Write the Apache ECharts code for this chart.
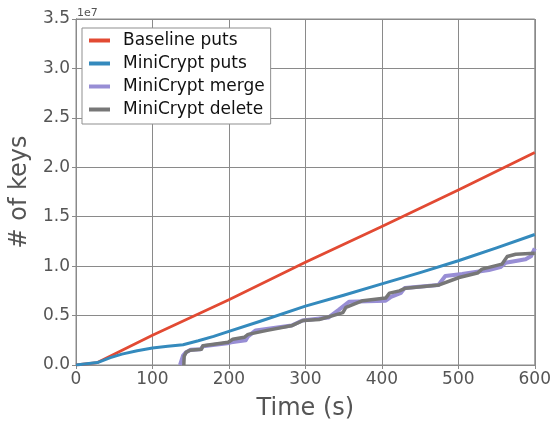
<!DOCTYPE html>
<html>
<head>
<meta charset="utf-8">
<script src="https://cdn.jsdelivr.net/npm/echarts@6/dist/echarts.min.js"></script>
<style>
  html, body { margin: 0; padding: 0; background: #fff; }
  #chart { width: 554px; height: 426px; }
</style>
</head>
<body>
<div id="chart"></div>
<script>
// Key counts are in millions of keys; the y axis shows them in units of 1e7.
const baselineTime = [0, 28, 100, 200, 300, 400, 500, 600];
const baselineKeys = [0, 0.25, 3.0, 6.6, 10.4, 14.0, 17.7, 21.5];

const putsTime = [0, 28, 45, 60, 80, 100, 120, 140, 160, 180, 200, 240, 300, 350, 400, 450, 500, 550, 600];
const putsKeys = [0, 0.25, 0.75, 1.1, 1.45, 1.72, 1.9, 2.05, 2.45, 2.9, 3.4, 4.4, 5.95, 7.05, 8.2, 9.35, 10.55, 11.85, 13.2];

const mergeTime = [136, 140, 144, 150, 163, 166, 198, 203, 222, 225, 235, 282, 296, 330, 344, 357, 405, 412, 425, 430, 474, 483, 505, 540, 555, 562, 588, 595, 600];
const mergeKeys = [0, 0.95, 1.3, 1.55, 1.6, 1.9, 2.2, 2.3, 2.5, 2.9, 3.5, 4.0, 4.5, 4.8, 5.6, 6.4, 6.5, 6.9, 7.3, 7.8, 8.1, 9.0, 9.2, 9.6, 9.9, 10.35, 10.7, 11.0, 11.8];

const deleteTime = [141, 141.5, 144, 149, 164, 166, 199, 205, 220, 225, 250, 283, 297, 318, 336, 349, 353, 375, 405, 410, 423, 431, 475, 501, 525, 531, 557, 564, 575, 600];
const deleteKeys = [0, 0.9, 1.28, 1.5, 1.6, 1.95, 2.3, 2.6, 2.8, 3.1, 3.5, 4.0, 4.5, 4.6, 5.0, 5.3, 5.83, 6.5, 6.77, 7.27, 7.5, 7.77, 8.1, 8.85, 9.3, 9.7, 10.2, 10.98, 11.2, 11.3];

const xTicks = [0, 100, 200, 300, 400, 500, 600];
const yTickLabels = ['0.0', '0.5', '1.0', '1.5', '2.0', '2.5', '3.0', '3.5'];

const seriesNames = ['Baseline puts', 'MiniCrypt puts', 'MiniCrypt merge', 'MiniCrypt delete'];

function pairs(t, v) { return t.map((x, i) => [x, v[i]]); }

const font = 'DejaVu Sans';
const frameColor = '#8a8a8a';
const tickText = '#555555';

const chart = echarts.init(document.getElementById('chart'), null, { renderer: 'canvas' });

const lineSeries = (name, data, color, width) => ({
  name, type: 'line', data, xAxisIndex: 0, yAxisIndex: 0,
  showSymbol: false, symbol: 'none', animation: false,
  lineStyle: { color, width, join: 'round' }, itemStyle: { color }
});

chart.setOption({
  animation: false,
  backgroundColor: '#fff',
  textStyle: { fontFamily: font },
  grid: { left: 76, top: 19, right: 18, bottom: 60, show: true, borderColor: frameColor, borderWidth: 1 },
  legend: {
    data: seriesNames,
    orient: 'vertical', left: 82, top: 28,
    icon: 'rect', itemWidth: 21, itemHeight: 4, itemGap: 6,
    padding: [4, 6, 6, 7],
    borderColor: '#8f8f8f', borderWidth: 1, backgroundColor: '#fff',
    textStyle: { fontFamily: font, fontSize: 17, color: '#111', lineHeight: 17, padding: [0, 0, 0, 8] }
  },
  xAxis: [{
    type: 'value', min: 0, max: 600, interval: 100, position: 'bottom',
    name: 'Time (s)', nameLocation: 'middle', nameGap: 32,
    nameTextStyle: { fontFamily: font, fontSize: 24, color: tickText },
    axisLine: { show: true, lineStyle: { color: frameColor } },
    axisTick: { show: true, inside: false, length: 4, lineStyle: { color: frameColor } },
    axisLabel: { fontFamily: font, fontSize: 17, color: tickText, margin: 6,
      formatter: v => xTicks.includes(v) ? String(v) : '' },
    splitLine: { show: true, lineStyle: { color: frameColor, width: 1 } }
  }, {
    type: 'value', min: 0, max: 600, interval: 100, position: 'top',
    axisLine: { show: true, lineStyle: { color: frameColor } },
    axisTick: { show: true, inside: false, length: 4, lineStyle: { color: frameColor } },
    axisLabel: { show: false }, splitLine: { show: false }
  }],
  yAxis: [{
    type: 'value', min: 0, max: 35, interval: 5, position: 'left',
    name: '# of keys', nameLocation: 'middle', nameGap: 41, nameRotate: 90,
    nameTextStyle: { fontFamily: font, fontSize: 24, color: tickText },
    axisLine: { show: true, lineStyle: { color: frameColor } },
    axisTick: { show: true, inside: false, length: 4, lineStyle: { color: frameColor } },
    axisLabel: { fontFamily: font, fontSize: 17, color: tickText, margin: 6,
      formatter: v => yTickLabels[Math.round(v / 5)] },
    splitLine: { show: true, lineStyle: { color: frameColor, width: 1 } }
  }, {
    type: 'value', min: 0, max: 35, interval: 5, position: 'right',
    axisLine: { show: true, lineStyle: { color: frameColor } },
    axisTick: { show: true, inside: false, length: 4, lineStyle: { color: frameColor } },
    axisLabel: { show: false }, splitLine: { show: false }
  }],
  graphic: [{
    type: 'text', left: 77, top: 8,
    style: { text: '1e7', fontFamily: font, fontSize: 11, fill: tickText }
  }],
  series: [
    lineSeries(seriesNames[0], pairs(baselineTime, baselineKeys), '#E24A33', 2.8),
    lineSeries(seriesNames[1], pairs(putsTime, putsKeys), '#348ABD', 3),
    lineSeries(seriesNames[2], pairs(mergeTime, mergeKeys), '#988ED5', 4),
    lineSeries(seriesNames[3], pairs(deleteTime, deleteKeys), '#777777', 3.5)
  ]
});
</script>
</body>
</html>
